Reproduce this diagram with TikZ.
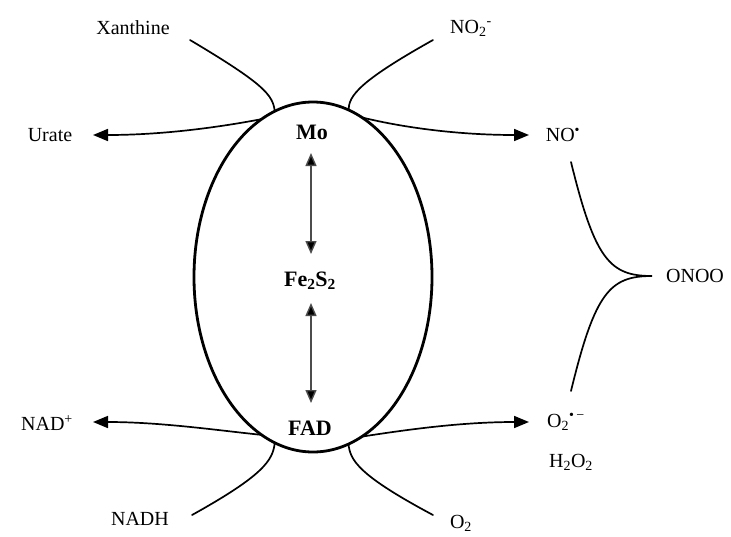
\documentclass[tikz,border=0pt]{standalone}
\usepackage{fontspec}
\setmainfont{Liberation Serif}
\usetikzlibrary{shapes.geometric,arrows.meta}
\begin{document}
\begin{tikzpicture}[x=1pt,y=-1pt,
  lbl/.style={font=\fontsize{20}{23}\selectfont, inner sep=1pt},
  blbl/.style={font=\bfseries\fontsize{22}{26}\selectfont, inner sep=1pt},
  curve/.style={line width=1.7pt, line cap=round},
  rxn/.style={line width=1.7pt, -{Triangle[length=15pt,width=12pt]}},
  shuttle/.style={line width=1.4pt, draw=black!70, {Triangle[length=13pt,width=11pt,fill=black]}-{Triangle[length=13pt,width=11pt,fill=black]}}
]
\useasboundingbox (0,0) rectangle (731,536);
\fill[white] (0,0) rectangle (731,536);

% enzyme body
\node[draw, ellipse, minimum width=238pt, minimum height=350pt, inner sep=0pt, outer sep=0pt, line width=2.8pt] (enz) at (313,277) {};

% centres
\node[blbl] (mo) at (312,132) {Mo};
\node[blbl] (fe) at (310,281) {Fe\textsubscript{2}S\textsubscript{2}};
\node[blbl] (fad) at (310,428) {FAD};

\coordinate (mofeA) at (311,153);
\coordinate (mofeB) at (311,254);
\coordinate (fefadA) at (311,303);
\coordinate (fefadB) at (311,403);
\draw[shuttle] (mofeA) -- (mofeB);
\draw[shuttle] (fefadA) -- (fefadB);

% labels
\node[lbl] (xan) at (133,28) {Xanthine};
\node[lbl] (urate) at (50,135) {Urate};
\node[lbl] (nitrite) at (471,28) {NO\textsubscript{2}\textsuperscript{-}};
\node[lbl] (no) at (563,135) {NO\textsuperscript{•}};
\node[lbl] (onoo) at (695,276) {ONOO};
\node[lbl] (nadp) at (47,423) {NAD\textsuperscript{+}};
\node[lbl] (nadh) at (140,519) {NADH};
\node[lbl] (oxy) at (461,523) {O\textsubscript{2}};
\node[lbl] (sup) at (566,422) {O\textsubscript{2}\textsuperscript{•\,−}};
\node[lbl] (hp) at (571,462) {H\textsubscript{2}O\textsubscript{2}};

% free ends
\coordinate (xanEnd) at (190,40);
\coordinate (urTip) at (93,135);
\coordinate (nitEnd) at (433,40);
\coordinate (noTip) at (529,135);
\coordinate (nadTip) at (93,422);
\coordinate (nadhEnd) at (192,515);
\coordinate (oxyEnd) at (433,515);
\coordinate (supTip) at (529,422);
\coordinate (brTop) at (571,162);
\coordinate (brMid) at (652,276);
\coordinate (brBot) at (571,391);

% upper substrates / products
\draw[curve] (xanEnd) .. controls (264,84) and (273,95) .. (enz.103);
\draw[rxn] (enz.108) .. controls (215,128) and (160,135) .. (urTip);
\draw[curve] (nitEnd) .. controls (358,82) and (349,96) .. (enz.78);
\draw[rxn] (enz.73) .. controls (405,128) and (460,135) .. (noTip);

% lower substrates / products
\draw[rxn] (enz.252) .. controls (215,430) and (160,422) .. (nadTip);
\draw[curve] (nadhEnd) .. controls (264,475) and (273,460) .. (enz.257);
\draw[curve] (oxyEnd) .. controls (358,475) and (350,460) .. (enz.282);
\draw[rxn] (enz.287) .. controls (405,430) and (460,422) .. (supTip);

% peroxynitrite bracket
\draw[curve] (brTop) .. controls (595,260) and (610,276) .. (brMid)
             .. controls (610,276) and (595,292) .. (brBot);
\end{tikzpicture}
\end{document}
